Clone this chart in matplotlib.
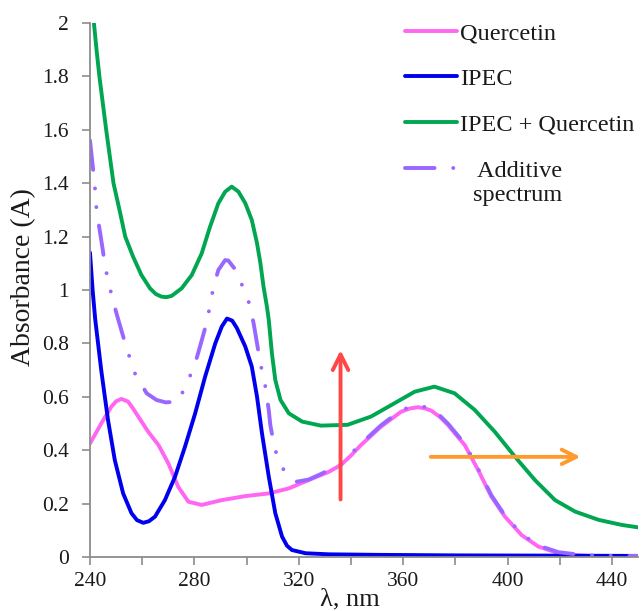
import matplotlib
matplotlib.use("Agg")
import matplotlib.pyplot as plt
from matplotlib.ticker import FuncFormatter

plt.rcParams["font.family"] = ["Liberation Serif", "DejaVu Serif"]

# UV-Vis spectra, wavelength in nm / absorbance
quer_wl = [240, 244.3, 248.2, 250, 252, 254.6, 256.5, 258.5, 262.3, 266.2, 270, 273.8,
           277.7, 282.8, 290.5, 299.5, 308.5, 316.2, 323.8, 331.5, 336.2, 340, 343.8,
           351.5, 359.2, 362.5, 365.6, 368.2, 370.8, 374, 377.2, 383.6, 388.7, 393.8,
           399, 405.4, 411.8, 419.5, 427.2, 435, 450]
quer_abs = [0.425, 0.50, 0.563, 0.583, 0.592, 0.582, 0.556, 0.526, 0.469, 0.42, 0.351, 0.263,
            0.207, 0.195, 0.213, 0.228, 0.238, 0.257, 0.288, 0.319, 0.345, 0.38, 0.419,
            0.488, 0.544, 0.556, 0.561, 0.557, 0.548, 0.525, 0.494, 0.419, 0.326, 0.226,
            0.151, 0.082, 0.039, 0.014, 0.006, 0.002, 0.0]

ipec_wl = [240, 241, 242, 244.3, 246.9, 249.5, 252.7, 255.9, 258, 260.4, 262.6, 264.9,
           268.7, 272.6, 276.4, 280.3, 284.1, 288, 290.5, 292.5, 294.5, 296.3, 299.5, 302,
           304, 305.9, 308.5, 311, 313.6, 315.5, 317.4, 322.6, 331.5, 350, 380, 420, 450]
ipec_abs = [1.14, 1.0, 0.89, 0.70, 0.513, 0.363, 0.238, 0.164, 0.138, 0.128, 0.134, 0.151,
            0.213, 0.301, 0.413, 0.538, 0.675, 0.80, 0.863, 0.893, 0.885, 0.857, 0.788, 0.713,
            0.60, 0.463, 0.301, 0.164, 0.076, 0.042, 0.026, 0.014, 0.01, 0.008, 0.006, 0.005, 0.004]

mix_wl = [240.8, 241.5, 242.5, 243.6, 244.9, 246.2, 247.6, 249, 251.3, 253.5, 256.5, 259.7,
          263, 265.2, 267.4, 269.3, 271.3, 275.1, 279, 282.8, 286, 289.2, 291.8, 294.3, 296.9,
          299.5, 302, 304, 305.3, 306.5, 307.8, 308.5, 309.7, 311, 313, 316.2, 321.3, 328.5,
          338.7, 347.7, 356.7, 364.4, 372, 379.7, 387.4, 395.1, 402.8, 410.5, 418.2, 425.9,
          434.9, 443.8, 450]
mix_abs = [2.05, 2.0, 1.9, 1.8, 1.7, 1.6, 1.5, 1.4, 1.3, 1.2, 1.125, 1.056,
           1.006, 0.985, 0.975, 0.973, 0.978, 1.006, 1.056, 1.137, 1.237, 1.325, 1.368, 1.387,
           1.368, 1.325, 1.262, 1.175, 1.10, 1.012, 0.937, 0.888, 0.763, 0.663, 0.588, 0.538,
           0.507, 0.492, 0.495, 0.526, 0.576, 0.619, 0.638, 0.613, 0.551, 0.469, 0.376, 0.288,
           0.213, 0.170, 0.139, 0.120, 0.111]

add_wl = [240, 241.2, 241.9, 242.3, 243.2, 244.9, 245.8, 247.2, 248.8, 250.8, 253.3, 255.3,
          257.2, 261.7, 265.5, 269, 273.8, 277.7, 280.3, 282.2, 284.2, 286, 287.3, 289.2,
          291.8, 293, 296.3, 298.5, 300.8, 302.7, 304, 305.3, 307.2, 308.5, 309.1, 310.4,
          311.7, 314, 316.2, 319.3, 323.8, 329, 336.2, 343.8, 351.5, 359.2, 362.5, 365.6,
          368.2, 370.8, 374, 377.2, 383.6, 388.7, 393.8, 399, 405.4, 411.8, 419.5, 427.2,
          435, 450]
add_abs = [1.56, 1.45, 1.383, 1.32, 1.256, 1.15, 1.087, 1.025, 0.96, 0.89, 0.806, 0.744,
           0.688, 0.613, 0.588, 0.579, 0.582, 0.663, 0.725, 0.79, 0.86, 0.94, 1.012, 1.075,
           1.112, 1.11, 1.069, 1.012, 0.956, 0.875, 0.80, 0.725, 0.638, 0.55, 0.494, 0.426,
           0.376, 0.33, 0.30, 0.282, 0.29, 0.313, 0.35, 0.424, 0.493, 0.55, 0.561, 0.566,
           0.562, 0.553, 0.53, 0.499, 0.424, 0.331, 0.231, 0.155, 0.086, 0.043, 0.018, 0.009,
           0.005, 0.004]

fig = plt.figure(figsize=(6.41, 6.11), dpi=100)
ax = fig.add_axes([0.1404, 0.0884, 0.855, 0.874])

lw = 2.8
ax.plot(quer_wl, quer_abs, color="#ff66f2", lw=lw, label="Quercetin", solid_capstyle="round")
ax.plot(ipec_wl, ipec_abs, color="#0000ee", lw=lw, label="IPEC", solid_capstyle="round")
ax.plot(mix_wl, mix_abs, color="#00a650", lw=lw, label="IPEC + Quercetin", solid_capstyle="round")
ax.plot(add_wl, add_abs, color="#9966ff", lw=lw, label="   Additive",
        linestyle=(0, (7.6, 4.8, 0.01, 4.8, 0.01, 4.8)), dash_capstyle="round")

# red: absorbance increase, orange: red shift of the band
ax.annotate("", xy=(336, 0.785), xytext=(336, 0.205),
            arrowprops=dict(arrowstyle="->", color="#ff4747", lw=2.8, mutation_scale=28))
ax.annotate("", xy=(429, 0.375), xytext=(369.5, 0.375),
            arrowprops=dict(arrowstyle="->", color="#ff9a2e", lw=2.8, mutation_scale=26))

ax.set_xlim(240, 450)
ax.set_ylim(0, 2)
ax.set_xticks(range(240, 451, 20))
ax.xaxis.set_major_formatter(FuncFormatter(lambda v, p: f"{v:.0f}" if int(v) % 40 == 0 else ""))
ax.set_yticks([i * 0.2 for i in range(11)])
ax.yaxis.set_major_formatter(FuncFormatter(lambda v, p: f"{v:g}"))

for side in ["top", "right"]:
    ax.spines[side].set_visible(False)
for side in ["left", "bottom"]:
    ax.spines[side].set_color("#8c8c8c")
    ax.spines[side].set_linewidth(1.3)
ax.tick_params(axis="both", direction="out", length=6, width=1.2, color="#8c8c8c",
               labelsize=15.5, labelcolor="#1a1a1a")
ax.tick_params(axis="x", pad=5)
ax.tick_params(axis="y", pad=9)

ax.set_ylabel("Absorbance (A)", fontsize=20, color="#1a1a1a")
ax.yaxis.set_label_coords(-0.098, 0.524)
ax.set_xlabel("λ, nm", fontsize=19, color="#1a1a1a")
ax.xaxis.set_label_coords(0.475, -0.058)

leg = ax.legend(loc="upper left", bbox_to_anchor=(405 / 641, 1 - 22 / 611),
                bbox_transform=fig.transFigure, frameon=False, fontsize=17.5,
                handlelength=2.15, handletextpad=0.1, labelspacing=0.98,
                borderpad=0, borderaxespad=0)
for t in leg.get_texts():
    t.set_color("#1a1a1a")
fig.text(473 / 641, 1 - 196 / 611, "spectrum", fontsize=17.5, color="#1a1a1a",
         ha="left", va="center")

fig.savefig("out.png", dpi=100)
